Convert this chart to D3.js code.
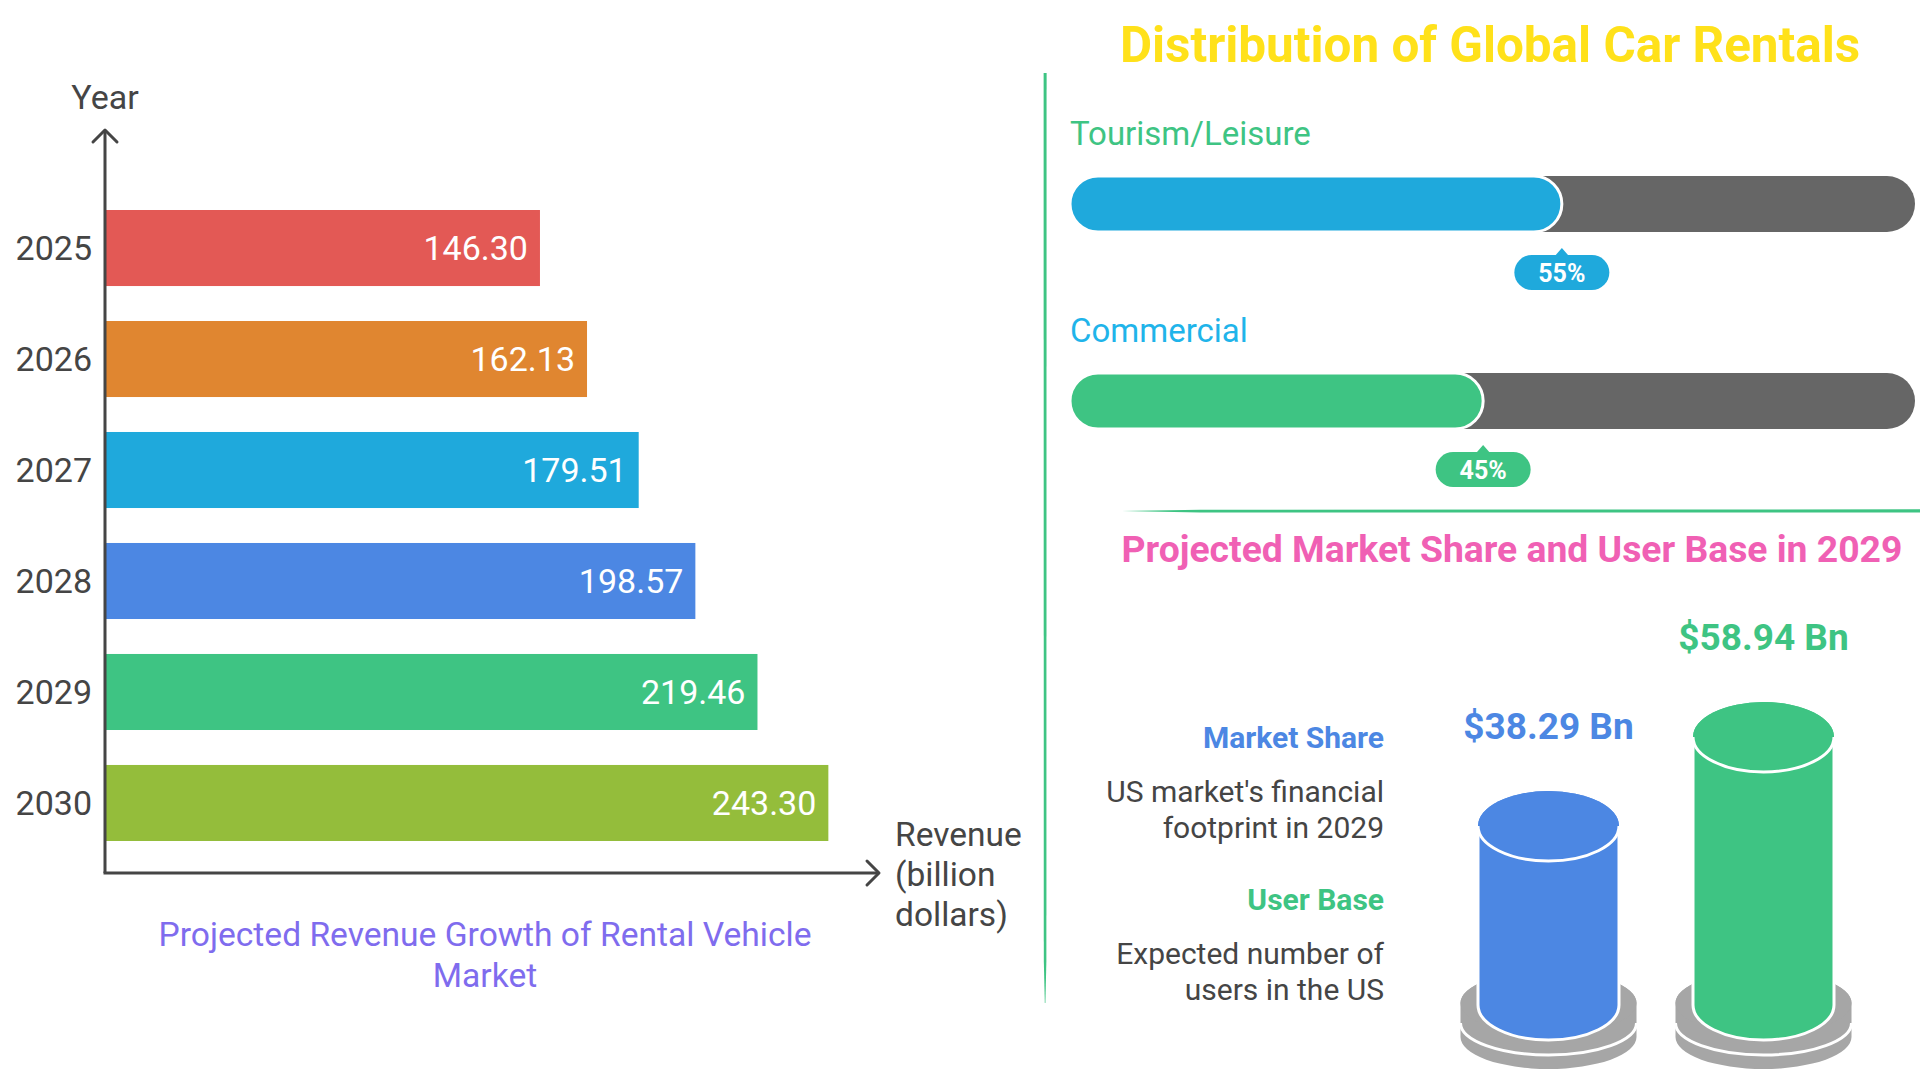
<!DOCTYPE html>
<html>
<head>
<meta charset="utf-8">
<script src="https://cdn.jsdelivr.net/npm/d3@7"></script>
<style>
  html, body { margin: 0; padding: 0; background: #ffffff; }
  svg { display: block; font-family: Roboto, "Noto Sans", sans-serif; }
</style>
</head>
<body>
<svg id="chart" width="1920" height="1080"></svg>
<script>
// ---------- data ----------
const years = ["2025", "2026", "2027", "2028", "2029", "2030"];
const revenue = [146.30, 162.13, 179.51, 198.57, 219.46, 243.30];
const revenueLabels = ["146.30", "162.13", "179.51", "198.57", "219.46", "243.30"];

const segments = ["Tourism/Leisure", "Commercial"];
const segmentShares = [55, 45];
const segmentShareLabels = ["55%", "45%"];

const metrics = ["Market Share", "User Base"];
const metricValues = [38.29, 58.94];
const metricValueLabels = ["$38.29 Bn", "$58.94 Bn"];
const metricDescriptions = [["US market's financial", "footprint in 2029"], ["Expected number of", "users in the US"]];

// ---------- styles ----------
const barColors = ["#e35955", "#e08630", "#1fa9dc", "#4c87e3", "#3ec483", "#94bd3b"];
const segmentColors = ["#1fa9dc", "#3ec483"];
const segmentLabelColors = ["#3ec483", "#1fb4ea"];
const metricColors = ["#4c87e3", "#3ec483"];
const axisColor = "#454545";
const textDark = "#454545";

const svg = d3.select("#chart");

// ================= LEFT: horizontal bar chart =================
const x = d3.scaleLinear().domain([0, 260]).range([105, 878]);
const y = d3.scaleBand().domain(years).range([192.5, 858.5]).paddingInner(0.315).paddingOuter(0.1577);
const axisY = 873;

const left = svg.append("g");

left.selectAll("rect.bar").data(years).join("rect")
  .attr("class", "bar")
  .attr("x", x(0))
  .attr("y", d => y(d))
  .attr("width", (d, i) => x(revenue[i]) - x(0))
  .attr("height", y.bandwidth())
  .attr("fill", (d, i) => barColors[i]);

left.selectAll("text.val").data(years).join("text")
  .attr("class", "val")
  .attr("x", (d, i) => x(revenue[i]) - 12)
  .attr("y", d => y(d) + y.bandwidth() / 2)
  .attr("dy", "0.36em")
  .attr("text-anchor", "end")
  .attr("font-size", 34)
  .attr("fill", "#ffffff")
  .text((d, i) => revenueLabels[i]);

// y-axis via d3 axis (ticks hidden, labels kept)
const yAxis = left.append("g")
  .attr("transform", `translate(${x(0)},0)`)
  .call(d3.axisLeft(y).tickSize(0).tickPadding(13));
yAxis.select(".domain").remove();
yAxis.selectAll("text").attr("font-size", 34).attr("fill", textDark).attr("font-family", "Roboto").attr("dy", "0.36em");

// axis lines with arrows
left.append("path")
  .attr("d", `M${x(0)},${axisY} V130`)
  .attr("stroke", axisColor).attr("stroke-width", 3).attr("fill", "none");
left.append("path")
  .attr("d", `M${x(0) - 12},142 L${x(0)},130 L${x(0) + 12},142`)
  .attr("stroke", axisColor).attr("stroke-width", 3).attr("fill", "none").attr("stroke-linejoin", "round").attr("stroke-linecap", "round");
left.append("path")
  .attr("d", `M${x(0) - 1.5},${axisY} H879`)
  .attr("stroke", axisColor).attr("stroke-width", 3).attr("fill", "none");
left.append("path")
  .attr("d", `M867,${axisY - 12} L879,${axisY} L867,${axisY + 12}`)
  .attr("stroke", axisColor).attr("stroke-width", 3).attr("fill", "none").attr("stroke-linejoin", "round").attr("stroke-linecap", "round");

left.append("text")
  .attr("x", x(0)).attr("y", 109)
  .attr("text-anchor", "middle").attr("font-size", 34).attr("fill", textDark)
  .text("Year");

const revLines = ["Revenue", "(billion", "dollars)"];
left.append("text")
  .attr("font-size", 33.5).attr("fill", textDark)
  .selectAll("tspan").data(revLines).join("tspan")
  .attr("x", 895).attr("y", (d, i) => 846 + i * 40)
  .text(d => d);

const titleLines = ["Projected Revenue Growth of Rental Vehicle", "Market"];
left.append("text")
  .attr("font-size", 33.6).attr("fill", "#7f6cee").attr("text-anchor", "middle")
  .selectAll("tspan").data(titleLines).join("tspan")
  .attr("x", 485).attr("y", (d, i) => 946 + i * 41)
  .text(d => d);

// ================= dividers =================
svg.append("path")
  .attr("d", "M1043.6,73 L1046.6,73 L1046.4,960 L1045.4,1003 L1044.8,1003 L1043.8,960 Z")
  .attr("fill", "#3ec483");
svg.append("path")
  .attr("d", "M1122,511 L1200,509.8 L1920,509.3 L1920,512.6 L1200,512.4 Z")
  .attr("fill", "#3ec483");

// ================= RIGHT TOP: progress bars =================
const right = svg.append("g");
right.append("text")
  .attr("x", 1490).attr("y", 62)
  .attr("text-anchor", "middle").attr("font-size", 49.4).attr("font-weight", "bold")
  .attr("fill", "#ffe11a")
  .text("Distribution of Global Car Rentals");

const trackL = 1070, trackR = 1915, trackH = 56, rr = trackH / 2;
const px = d3.scaleLinear().domain([0, 100]).range([trackL + 2 * rr + 3, trackR + 1]);
const trackTops = [176, 373];
const labelBase = [145, 342];

segments.forEach((s, i) => {
  const T = trackTops[i];
  const g = right.append("g");
  g.append("text")
    .attr("x", trackL).attr("y", labelBase[i])
    .attr("font-size", 33).attr("fill", segmentLabelColors[i])
    .text(s);
  g.append("rect")
    .attr("x", trackL).attr("y", T).attr("width", trackR - trackL).attr("height", trackH)
    .attr("rx", rr).attr("fill", "#666666");
  const E = px(segmentShares[i]);
  g.append("path")
    .attr("d", `M${trackL + rr},${T} H${E - rr} A${rr},${rr} 0 0 1 ${E - rr},${T + trackH} H${trackL + rr} A${rr},${rr} 0 0 1 ${trackL + rr},${T} Z`)
    .attr("fill", segmentColors[i]).attr("stroke", "#ffffff").attr("stroke-width", 3);
  // badge
  const bTop = T + trackH + 23, bw = 95, bh = 35;
  g.append("path")
    .attr("d", `M${E - 7},${bTop + 1} L${E},${bTop - 7} L${E + 7},${bTop + 1} Z`)
    .attr("fill", segmentColors[i]);
  g.append("rect")
    .attr("x", E - bw / 2).attr("y", bTop).attr("width", bw).attr("height", bh)
    .attr("rx", bh / 2).attr("fill", segmentColors[i]);
  g.append("text")
    .attr("x", E).attr("y", bTop + bh / 2).attr("dy", "0.36em")
    .attr("text-anchor", "middle").attr("font-size", 25).attr("font-weight", "bold")
    .attr("fill", "#ffffff")
    .text(segmentShareLabels[i]);
});

// ================= RIGHT BOTTOM: cylinders =================
right.append("text")
  .attr("x", 1512).attr("y", 562)
  .attr("text-anchor", "middle").attr("font-size", 37.3).attr("font-weight", "bold")
  .attr("fill", "#f060b4")
  .text("Projected Market Share and User Base in 2029");

const descTitleY = [748, 910];
metrics.forEach((m, i) => {
  right.append("text")
    .attr("x", 1384).attr("y", descTitleY[i])
    .attr("text-anchor", "end").attr("font-size", 30).attr("font-weight", "bold")
    .attr("fill", metricColors[i])
    .text(m);
  right.append("text")
    .attr("text-anchor", "end").attr("font-size", 30).attr("fill", textDark)
    .selectAll("tspan").data(metricDescriptions[i]).join("tspan")
    .attr("x", 1384).attr("y", (d, j) => descTitleY[i] + 54 + j * 36)
    .text(d => d);
});

const cx = d3.scaleBand().domain(metrics).range([1462.5, 1849.5]).paddingInner(0.2);
const cy = d3.scaleLinear().domain([0, 60]).range([991, 732.4]);
const cylBottom = 1005, crx = 70.5, cry = 35;
const baseR = 88, baseRy = 32, baseTop = 1003, baseMid = 1023, baseBot = 1037;

metrics.forEach((m, i) => {
  const c = cx(m) + cx.bandwidth() / 2;
  const g = right.append("g");
  // base disc
  g.append("path")
    .attr("d", `M${c - baseR},${baseTop} V${baseBot} A${baseR},${baseRy} 0 0 0 ${c + baseR},${baseBot} V${baseTop} A${baseR},${baseRy} 0 0 0 ${c - baseR},${baseTop} Z`)
    .attr("fill", "#a6a6a6");
  g.append("ellipse").attr("cx", c).attr("cy", baseTop).attr("rx", baseR).attr("ry", baseRy).attr("fill", "#a6a6a6");
  g.append("path")
    .attr("d", `M${c - baseR},${baseMid} A${baseR},${baseRy} 0 0 0 ${c + baseR},${baseMid}`)
    .attr("fill", "none").attr("stroke", "#ffffff").attr("stroke-width", 3);
  // cylinder
  const top = cy(metricValues[i]);
  g.append("path")
    .attr("d", `M${c - crx},${top} V${cylBottom} A${crx},${cry} 0 0 0 ${c + crx},${cylBottom} V${top} A${crx},${cry} 0 0 0 ${c - crx},${top} Z`)
    .attr("fill", metricColors[i]);
  g.append("path")
    .attr("d", `M${c - crx},${top} V${cylBottom} A${crx},${cry} 0 0 0 ${c + crx},${cylBottom} V${top}`)
    .attr("fill", "none").attr("stroke", "#ffffff").attr("stroke-width", 3);
  g.append("ellipse").attr("cx", c).attr("cy", top).attr("rx", crx).attr("ry", cry).attr("fill", metricColors[i]);
  g.append("path")
    .attr("d", `M${c - crx},${top} A${crx},${cry} 0 0 0 ${c + crx},${top}`)
    .attr("fill", "none").attr("stroke", "#ffffff").attr("stroke-width", 3);
  g.append("text")
    .attr("x", c).attr("y", top - cry - 52)
    .attr("text-anchor", "middle").attr("font-size", 37).attr("font-weight", "bold")
    .attr("fill", metricColors[i])
    .text(metricValueLabels[i]);
});
</script>
</body>
</html>
